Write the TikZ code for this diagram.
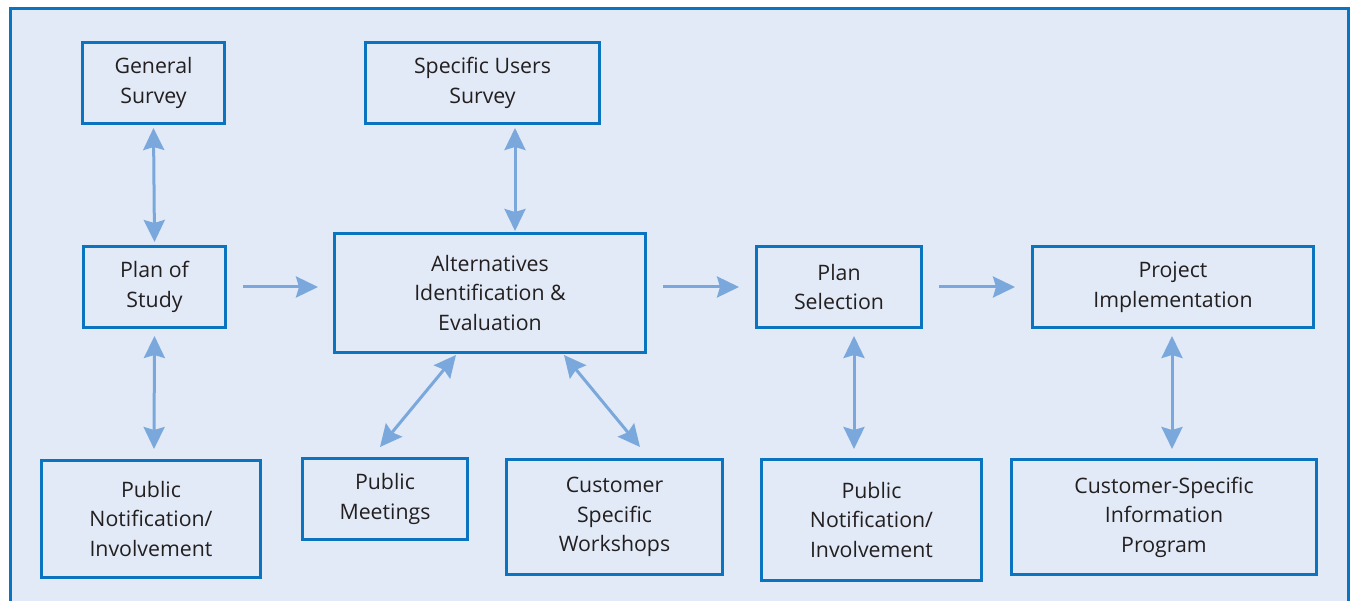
\documentclass[tikz,border=0pt]{standalone}
\usepackage{fontspec}
\setmainfont{Open Sans}
\usetikzlibrary{arrows.meta,calc}
\definecolor{bgblue}{HTML}{E1EAF6}
\definecolor{frameblue}{HTML}{0A74C0}
\definecolor{arrblue}{HTML}{7BA8DC}
\definecolor{txt}{HTML}{231F20}
\tikzset{
  box/.style={draw=frameblue, line width=3pt, fill=bgblue, align=center, inner sep=0pt,
    font=\fontsize{21.3}{29.5}\selectfont, text=txt},
  arr/.style={draw=arrblue, line width=3pt, -{Stealth[length=22pt,width=21pt,inset=3pt]}},
  darr/.style={draw=arrblue, line width=3pt, {Stealth[length=22pt,width=21pt,inset=3pt]}-{Stealth[length=22pt,width=21pt,inset=3pt]}},
}
\begin{document}
\begin{tikzpicture}[x=1pt,y=-1pt]
\useasboundingbox (0,0) rectangle (1351,601);
\fill[white] (0,0) rectangle (1351,601);
\draw[draw=frameblue, line width=3pt, fill=bgblue] (10,9) rectangle (1348,640);

\node[box, minimum width=142pt, minimum height=81pt] (gs) at (153.5,83) {General\\Survey};
\node[box, minimum width=234pt, minimum height=81pt] (sus) at (482.5,83) {Specific Users\\Survey};
\node[box, minimum width=142pt, minimum height=81pt] (pos) at (154.5,287) {Plan of\\Study};
\node[box, minimum width=311pt, minimum height=119pt] (alt) at (490,293) {Alternatives\\Identification \&\\Evaluation};
\node[box, minimum width=165pt, minimum height=81pt] (ps) at (839,287) {Plan\\Selection};
\node[box, minimum width=281pt, minimum height=81pt] (pi) at (1173,287) {Project\\Implementation};
\node[box, minimum width=219pt, minimum height=117pt] (pnil) at (151,519) {Public\\Notification/\\Involvement};
\node[box, minimum width=165pt, minimum height=81pt] (pm) at (385,499) {Public\\Meetings};
\node[box, minimum width=216pt, minimum height=115pt] (csw) at (614.5,517) {Customer\\Specific\\Workshops};
\node[box, minimum width=220pt, minimum height=121pt] (pnir) at (871.5,520) {Public\\Notification/\\Involvement};
\node[box, minimum width=305pt, minimum height=115pt] (csip) at (1164,517) {Customer-Specific\\Information\\Program};

\draw[darr] ([yshift=-3pt]gs.south) -- ([yshift=3pt]pos.north);
\draw[darr] ([xshift=32.5pt,yshift=-3pt]sus.south) -- ([xshift=25pt,yshift=1pt]alt.north);
\draw[darr] ([yshift=-7pt]pos.south) -- ([xshift=-0.5pt,yshift=10pt]pnil.north -| pos.south);
\draw[arr] ([xshift=16pt]pos.east) -- ([xshift=-15pt]alt.west |- pos.east);
\draw[arr] ([xshift=16pt]alt.east |- ps.west) -- ([xshift=-16pt]ps.west);
\draw[arr] ([xshift=16pt]ps.east) -- ([xshift=-16pt]pi.west);
\draw[darr] ([xshift=-34pt,yshift=-1pt]alt.south) -- ([xshift=-5pt,yshift=10pt]pm.north);
\draw[darr] ([xshift=74pt,yshift=-1pt]alt.south) -- ([xshift=25.5pt,yshift=11pt]csw.north);
\draw[darr] ([xshift=15pt,yshift=-7pt]ps.south) -- ([xshift=-17.5pt,yshift=9pt]pnir.north);
\draw[darr] ([xshift=-1pt,yshift=-7pt]pi.south) -- ([xshift=8pt,yshift=9pt]csip.north);
\end{tikzpicture}
\end{document}
